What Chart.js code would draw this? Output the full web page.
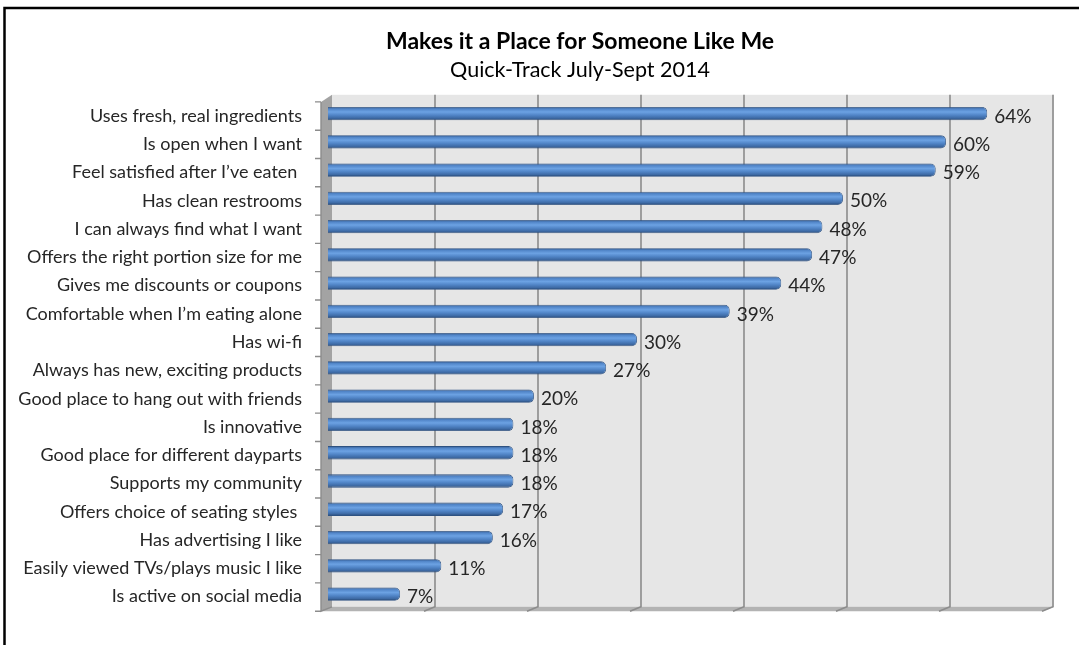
<!DOCTYPE html>
<html><head><meta charset="utf-8">
<script src="https://cdn.jsdelivr.net/npm/chart.js@4.4.0/dist/chart.umd.min.js"></script>
<style>html,body{margin:0;padding:0;background:#fff;overflow:hidden}</style>
</head><body>
<canvas id="c" width="1079" height="645"></canvas>
<script>
const categories = [
  'Uses fresh, real ingredients',
  'Is open when I want',
  'Feel satisfied after I\u2019ve eaten ',
  'Has clean restrooms',
  'I can always find what I want',
  'Offers the right portion size for me',
  'Gives me discounts or coupons',
  'Comfortable when I\u2019m eating alone',
  'Has wi-fi',
  'Always has new, exciting products',
  'Good place to hang out with friends',
  'Is innovative',
  'Good place for different dayparts',
  'Supports my community',
  'Offers choice of seating styles ',
  'Has advertising I like',
  'Easily viewed TVs/plays music I like',
  'Is active on social media'
];
const values = [64, 60, 59, 50, 48, 47, 44, 39, 30, 27, 20, 18, 18, 18, 17, 16, 11, 7];
const axisMin = 0;
const axisMax = 70;
const gridStep = 10;
const titleText = 'Makes it a Place for Someone Like Me';
const subtitleText = 'Quick-Track July-Sept 2014';

const FONT = 'Lato';
const BAR_PCT = 0.47;

function barGradient(context) {
  const chart = context.chart;
  const ys = chart.scales && chart.scales.y;
  if (!ys || !chart.chartArea || context.dataIndex === undefined) return '#4f81bd';
  const yc = ys.getPixelForValue(context.dataIndex);
  const h = (ys.height / categories.length) * BAR_PCT / 2;
  const g = chart.ctx.createLinearGradient(0, yc - h, 0, yc + h);
  g.addColorStop(0, '#2d4c77');
  g.addColorStop(0.14, '#4f83c6');
  g.addColorStop(0.38, '#6ca2e3');
  g.addColorStop(0.62, '#5185c7');
  g.addColorStop(0.86, '#3c68a2');
  g.addColorStop(1, '#233f66');
  return g;
}

// centre the title block over the same span as in the original layout
const titleShift = {
  id: 'titleShift',
  afterLayout(chart) {
    chart.boxes.forEach(b => {
      if (b.options && typeof b.options.text === 'string' && b.fullSize && b.position === 'top') {
        b.left = 111;
        b.right = chart.chartArea.right;
      }
    });
  }
};

const backdrop = {
  id: 'backdrop',
  beforeDraw(chart) {
    const ctx = chart.ctx, ca = chart.chartArea, xs = chart.scales.x;
    ctx.save();
    // outer frame
    ctx.strokeStyle = '#000';
    ctx.lineWidth = 2.5;
    ctx.strokeRect(4.5, 8, 1200, 800);
    const wallL = ca.left + 4, wallR = ca.right + 5, wallT = ca.top - 4.6, wallB = ca.bottom - 1.4;
    const fL = ca.left - 7, fR = ca.right - 6, fT = ca.top + 2.5, fB = ca.bottom + 3;
    // back wall
    ctx.fillStyle = '#e6e6e6';
    ctx.fillRect(wallL, wallT, wallR - wallL, wallB - wallT);
    // side wall
    ctx.fillStyle = '#a3a3a3';
    ctx.beginPath();
    ctx.moveTo(fL, fT); ctx.lineTo(wallL, wallT); ctx.lineTo(wallL, wallB); ctx.lineTo(fL, fB);
    ctx.closePath(); ctx.fill();
    // floor
    ctx.fillStyle = '#b3b3b3';
    ctx.beginPath();
    ctx.moveTo(fL, fB); ctx.lineTo(wallL, wallB); ctx.lineTo(wallR, wallB); ctx.lineTo(fR, fB);
    ctx.closePath(); ctx.fill();
    // grid lines on wall + floor
    ctx.strokeStyle = '#8c8c8c';
    ctx.lineWidth = 1.6;
    for (let v = axisMin + gridStep; v <= axisMax; v += gridStep) {
      const x = xs.getPixelForValue(v) + 4;
      ctx.beginPath();
      ctx.moveTo(x, wallT); ctx.lineTo(x, wallB); ctx.lineTo(x - 11, fB);
      ctx.stroke();
    }
    // left axis edge and tick marks
    ctx.strokeStyle = '#8c8c8c';
    ctx.lineWidth = 1.4;
    ctx.beginPath();
    ctx.moveTo(fL, fT); ctx.lineTo(fL, fB); ctx.lineTo(wallL, wallB);
    ctx.stroke();
    const n = categories.length;
    ctx.beginPath();
    for (let k = 0; k <= n; k++) {
      const y = fT + k * (fB - fT) / n;
      ctx.moveTo(fL - 6, y); ctx.lineTo(fL, y);
    }
    ctx.stroke();
    ctx.restore();
  }
};

const valueLabels = {
  id: 'valueLabels',
  afterDatasetsDraw(chart) {
    const ctx = chart.ctx;
    const meta = chart.getDatasetMeta(0);
    ctx.save();
    ctx.font = '19px ' + FONT;
    ctx.fillStyle = '#262626';
    ctx.textAlign = 'left';
    ctx.textBaseline = 'middle';
    meta.data.forEach((bar, i) => {
      ctx.fillText(values[i] + '%', bar.x + 7, bar.y + 3);
    });
    ctx.restore();
  }
};

new Chart(document.getElementById('c'), {
  type: 'bar',
  data: {
    labels: categories,
    datasets: [{
      data: values,
      backgroundColor: barGradient,
      borderColor: '#2e5282',
      borderWidth: 0.8,
      borderRadius: 5,
      borderSkipped: 'start',
      barPercentage: BAR_PCT,
      categoryPercentage: 1
    }]
  },
  options: {
    indexAxis: 'y',
    responsive: false,
    animation: false,
    devicePixelRatio: 1,
    layout: { padding: { left: 8, right: 30, top: 0, bottom: 27 } },
    plugins: {
      legend: { display: false },
      tooltip: { enabled: false },
      title: {
        display: true, text: titleText, color: '#000',
        font: { family: FONT, size: 23, weight: 'bold' },
        padding: { top: 28, bottom: 0 }
      },
      subtitle: {
        display: true, text: subtitleText, color: '#000',
        font: { family: FONT, size: 21.5 },
        padding: { top: 2, bottom: 16 }
      }
    },
    scales: {
      x: { display: false, min: axisMin, max: axisMax },
      y: {
        afterFit(scale) { scale.width = 320; },
        grid: { display: false, drawTicks: false },
        border: { display: false },
        ticks: { color: '#262626', font: { family: FONT, size: 18 }, padding: 26, labelOffset: 2.5, autoSkip: false }
      }
    }
  },
  plugins: [titleShift, backdrop, valueLabels]
});
</script>
</body></html>
